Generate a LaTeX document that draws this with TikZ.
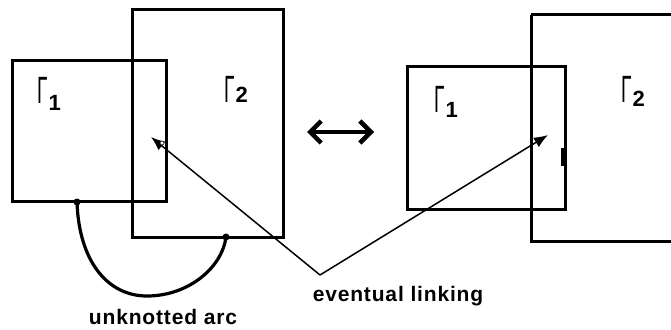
\documentclass[tikz,border=0pt]{standalone}
\usepackage{fontspec}
\setmainfont{Liberation Sans}
\newfontfamily\labfont[LetterSpace=4]{Liberation Sans}
\usetikzlibrary{arrows.meta}
\newcommand{\gamlab}[2]{{\scalebox{0.5}[1]{\fontsize{38}{38}\selectfont Γ}\hspace{1pt}\raisebox{-#2pt}{\fontsize{22}{22}\selectfont\bfseries #1}}}
\begin{document}
\begin{tikzpicture}[x=1pt,y=-1pt,
  box/.style={draw=black,line width=3pt,fill=none},
  link/.style={draw=black,line width=1.5pt,-{Latex[length=14pt,width=11pt,fill=black]}},
  arcline/.style={draw=black,line width=3.2pt},
  lab/.style={font=\labfont\bfseries\fontsize{21}{21}\selectfont,inner sep=0pt,anchor=base},
  glab/.style={inner sep=0pt,anchor=base west},
  dotst/.style={circle,fill=black,inner sep=0pt,minimum size=7pt}]
\useasboundingbox (0,0) rectangle (671,329);
% left pair
\draw[box] (12,60) rectangle (166,201);
\draw[box] (132,10) rectangle (283,237);
\node[glab] (g1) at (37,103) {\gamlab{1}{7}};
\node[glab] (g2) at (224,102) {\gamlab{2}{0}};
% unknotted arc
\node[dotst] (a1) at (77,202) {};
\node[dotst] (a2) at (226,237) {};
\coordinate (abot) at (147,296);
\draw[arcline] (a1.center) .. controls (79,262) and (108,296) .. (abot)
  .. controls (188,296) and (222,268) .. (a2.center);
% linking lines
\coordinate (v) at (320,275);
\coordinate (t1) at (151,137);
\coordinate (t2) at (548,135);
\draw[link] (v) -- (t1);
\draw[link] (v) -- (t2);
\node[circle,draw=black,fill=white,line width=0.6pt,inner sep=0pt,minimum size=4pt] (hole) at (162,143) {};
% double arrow
\coordinate (dl) at (307,132);
\coordinate (dr) at (374,132);
\draw[line width=3.5pt,{Straight Barb[length=11pt,width=22pt,line width=4.5pt]}-{Straight Barb[length=11pt,width=22pt,line width=4.5pt]}] (dl) -- (dr);
% right pair
\draw[box] (407,66) rectangle (565,209);
\draw[box] (531,15) -- (675,15) (531,15) -- (531,241) -- (675,241);
\draw[line width=4.5pt] (563,148) -- (563,166);
\node[glab] (g3) at (434,112) {\gamlab{1}{5}};
\node[glab] (g4) at (621,102) {\gamlab{2}{4}};
% labels
\node[lab] (l1) at (163,324) {unknotted arc};
\node[lab] (l2) at (398,301) {eventual linking};
\end{tikzpicture}
\end{document}
